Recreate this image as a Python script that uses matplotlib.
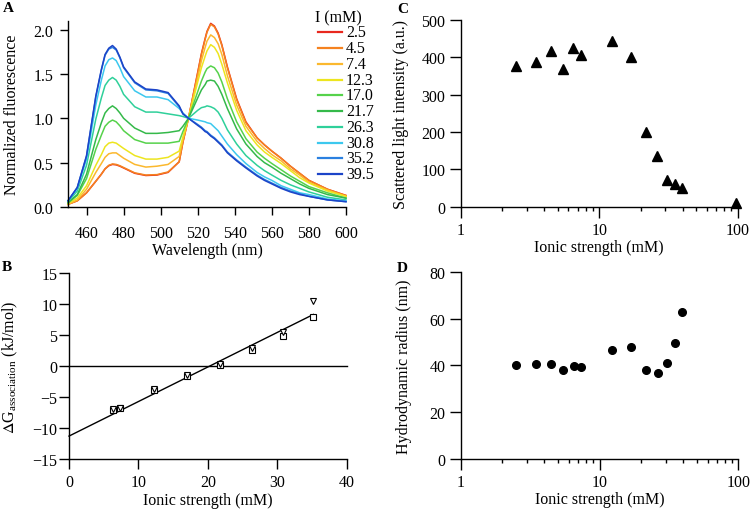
import matplotlib
matplotlib.use("Agg")
import matplotlib.pyplot as plt
from matplotlib.lines import Line2D

plt.rcParams['font.family'] = ['Liberation Serif', 'DejaVu Serif']
plt.rcParams['mathtext.fontset'] = 'stix'
FS = 11.5
plt.rcParams['font.size'] = FS

# ---------------- Panel A data ----------------
wavelength = [450, 455, 460, 465, 468, 470, 472, 474, 476, 478, 480, 486, 492, 498, 504, 510, 512, 515,
              520, 522, 524, 525, 527, 529, 531, 533, 536, 541, 546, 552, 556, 560, 565, 570, 575, 580, 590, 600]
ionic_labels = ["2.5", "4.5", "7.4", "12.3", "17.0", "21.7", "26.3", "30.8", "35.2", "39.5"]
colors_A = ["#e8281e", "#f5821f", "#fbb82e", "#ede51f", "#56d24b", "#35b94a",
            "#2fd09a", "#3cc8ee", "#2b80e0", "#1c44c8"]
spec_2_5 = [0.03, 0.07, 0.16, 0.29, 0.37, 0.43, 0.465, 0.48, 0.475, 0.46, 0.44, 0.38, 0.355, 0.36, 0.39, 0.51, 0.73, 1.00,
            1.52, 1.73, 1.90, 1.98, 2.07, 2.04, 1.96, 1.83, 1.58, 1.22, 0.96, 0.78, 0.70, 0.63, 0.55, 0.46, 0.38, 0.30, 0.20, 0.13]
spec_4_5 = [0.03, 0.07, 0.16, 0.29, 0.37, 0.43, 0.47, 0.485, 0.48, 0.465, 0.445, 0.385, 0.36, 0.365, 0.395, 0.51, 0.73, 1.00,
            1.51, 1.72, 1.89, 1.97, 2.06, 2.03, 1.95, 1.82, 1.57, 1.21, 0.95, 0.78, 0.70, 0.63, 0.55, 0.46, 0.38, 0.30, 0.20, 0.13]
spec_7_4 = [0.03, 0.08, 0.20, 0.39, 0.49, 0.56, 0.60, 0.61, 0.61, 0.58, 0.55, 0.48, 0.45, 0.46, 0.48, 0.57, 0.76, 1.00,
            1.46, 1.65, 1.80, 1.87, 1.94, 1.91, 1.84, 1.72, 1.48, 1.15, 0.91, 0.74, 0.66, 0.59, 0.52, 0.43, 0.36, 0.28, 0.19, 0.12]
spec_12_3 = [0.04, 0.10, 0.24, 0.47, 0.59, 0.68, 0.72, 0.73, 0.72, 0.69, 0.66, 0.58, 0.54, 0.54, 0.56, 0.63, 0.79, 1.00,
             1.41, 1.57, 1.70, 1.76, 1.83, 1.80, 1.73, 1.61, 1.40, 1.09, 0.86, 0.70, 0.62, 0.56, 0.49, 0.41, 0.33, 0.27, 0.18, 0.12]
spec_17_0 = [0.045, 0.13, 0.32, 0.65, 0.81, 0.91, 0.955, 0.98, 0.96, 0.915, 0.86, 0.76, 0.72, 0.72, 0.72, 0.74, 0.85, 1.00,
             1.30, 1.42, 1.52, 1.56, 1.59, 1.57, 1.51, 1.41, 1.22, 0.96, 0.77, 0.62, 0.55, 0.49, 0.42, 0.35, 0.29, 0.23, 0.16, 0.10]
spec_21_7 = [0.05, 0.14, 0.37, 0.76, 0.95, 1.06, 1.11, 1.14, 1.11, 1.06, 1.00, 0.89, 0.83, 0.83, 0.84, 0.86, 0.91, 1.00,
             1.23, 1.32, 1.38, 1.42, 1.43, 1.42, 1.36, 1.27, 1.11, 0.88, 0.71, 0.57, 0.50, 0.45, 0.38, 0.32, 0.26, 0.21, 0.14, 0.10]
spec_26_3 = [0.06, 0.18, 0.47, 0.99, 1.23, 1.37, 1.43, 1.46, 1.43, 1.36, 1.27, 1.13, 1.07, 1.07, 1.05, 1.03, 1.02, 1.00,
             1.09, 1.12, 1.13, 1.14, 1.13, 1.11, 1.07, 1.00, 0.87, 0.71, 0.58, 0.47, 0.41, 0.36, 0.30, 0.25, 0.21, 0.17, 0.11, 0.08]
spec_30_8 = [0.07, 0.21, 0.54, 1.15, 1.43, 1.59, 1.66, 1.68, 1.65, 1.57, 1.47, 1.31, 1.24, 1.24, 1.21, 1.11, 1.06, 1.00,
             0.98, 0.97, 0.96, 0.95, 0.94, 0.90, 0.86, 0.80, 0.71, 0.59, 0.49, 0.39, 0.34, 0.30, 0.24, 0.20, 0.16, 0.14, 0.09, 0.07]
spec_35_2 = [0.07, 0.22, 0.57, 1.24, 1.54, 1.71, 1.78, 1.80, 1.77, 1.68, 1.57, 1.40, 1.32, 1.31, 1.28, 1.13, 1.05, 1.00,
             0.93, 0.90, 0.86, 0.85, 0.81, 0.78, 0.74, 0.70, 0.62, 0.53, 0.45, 0.36, 0.31, 0.27, 0.22, 0.18, 0.15, 0.12, 0.08, 0.06]
spec_39_5 = [0.07, 0.22, 0.58, 1.25, 1.55, 1.72, 1.79, 1.82, 1.78, 1.69, 1.58, 1.41, 1.33, 1.32, 1.29, 1.14, 1.05, 1.00,
             0.92, 0.89, 0.85, 0.84, 0.80, 0.77, 0.73, 0.69, 0.61, 0.52, 0.44, 0.35, 0.30, 0.26, 0.21, 0.17, 0.14, 0.12, 0.08, 0.06]
spectra = [spec_2_5, spec_4_5, spec_7_4, spec_12_3, spec_17_0, spec_21_7,
           spec_26_3, spec_30_8, spec_35_2, spec_39_5]

# ---------------- Panel B data ----------------
ionic_B = [6.4, 7.4, 12.3, 17.0, 21.7, 26.3, 30.8, 35.2]
dG_squares = [-7.1, -6.8, -3.8, -1.55, 0.2, 2.55, 4.9, 8.0]
dG_triangles = [-7.0, -6.7, -3.65, -1.45, 0.3, 2.9, 5.5, 10.6]
fit_x = [0.0, 35.2]
fit_y = [-11.3, 8.35]

# ---------------- Panel C/D data ----------------
ionic_C = [2.5, 3.5, 4.5, 5.5, 6.5, 7.4, 12.3, 17.0, 21.7, 26.3, 30.8, 35.2, 39.5, 96.5]
scatter_int = [377, 386, 417, 368, 423, 405, 443, 399, 200, 136, 71, 62, 49, 10]
ionic_D = [2.5, 3.5, 4.5, 5.5, 6.5, 7.4, 12.3, 17.0, 21.7, 26.3, 30.8, 35.2, 39.5]
hydro_radius = [40.1, 40.4, 40.6, 38.1, 39.9, 39.4, 46.7, 47.8, 37.9, 36.6, 41.0, 49.7, 62.6]

W, H = 750, 510
fig = plt.figure(figsize=(W / 100, H / 100), dpi=100)


def fx(px):
    return px / W


def fy(py):
    return 1 - py / H


def px_axes(x0, x1, ytop, ybot):
    return fig.add_axes([fx(x0), fy(ybot), (x1 - x0) / W, (ybot - ytop) / H])


def style(ax, xlen, xpad, ylen, ypad):
    for s in ['top', 'right']:
        ax.spines[s].set_visible(False)
    for s in ['left', 'bottom']:
        ax.spines[s].set_linewidth(1.0)
    ax.tick_params(which='major', direction='out', width=1.0, labelsize=FS)
    ax.tick_params(axis='x', which='major', length=xlen, pad=xpad)
    ax.tick_params(axis='y', which='major', length=ylen, pad=ypad)
    ax.tick_params(which='minor', direction='out', length=3, width=1.0)


def place_labels(ax, xlabel_top_px, ylabel_right_px):
    pos = ax.get_position()
    ax.xaxis.set_label_coords(0.5 * (pos.x0 + pos.x1), fy(xlabel_top_px), transform=fig.transFigure)
    ax.yaxis.set_label_coords(fx(ylabel_right_px), 0.5 * (pos.y0 + pos.y1), transform=fig.transFigure)


# Panel A
axA = px_axes(68, 346, 21.7, 208)
for spec, lab, col in zip(spectra, ionic_labels, colors_A):
    axA.plot(wavelength, spec, color=col, lw=1.1, label=lab)
axA.set_xlim(450, 600)
axA.set_ylim(0, 2.1)
axA.set_xticks([460, 480, 500, 520, 540, 560, 580, 600])
axA.set_yticks([0.0, 0.5, 1.0, 1.5, 2.0])
axA.set_yticklabels(["0.0", "0.5", "1.0", "1.5", "2.0"])
axA.set_xlabel("Wavelength (nm)", fontsize=FS)
axA.set_ylabel("Normalized fluorescence", fontsize=FS)
style(axA, 5.5, 7.5, 6, 4.5)
place_labels(axA, 243, 20)

# legend for panel A (title + one row per ionic strength)
fig.text(fx(315), fy(18), "I (mM)", fontsize=FS, ha='left', va='center')
for i, (lab, col) in enumerate(zip(ionic_labels, colors_A)):
    yrow = 33.3 + i * 15.75
    fig.add_artist(Line2D([fx(318), fx(342)], [fy(yrow), fy(yrow)], color=col, lw=1.6,
                          transform=fig.transFigure))
    fig.text(fx(346), fy(yrow), lab, fontsize=FS, ha='left', va='center')
fig.text(fx(3), fy(12), "A", fontsize=11, fontweight='bold', ha='left', va='baseline')

# Panel B
axB = px_axes(69, 346.7, 274.3, 460)
axB.axhline(0, color='black', lw=1.0)
axB.plot(fit_x, fit_y, color='black', lw=1.0)
axB.plot(ionic_B, dG_squares, ls='none', marker='s', ms=4, mfc='white', mec='black', mew=0.8)
axB.plot(ionic_B, dG_triangles, ls='none', marker='v', ms=4.5, mfc='white', mec='black', mew=0.8)
axB.set_xlim(0, 40)
axB.set_ylim(-15, 15)
axB.set_xticks([0, 10, 20, 30, 40])
axB.set_yticks([-15, -10, -5, 0, 5, 10, 15])
axB.set_xlabel("Ionic strength (mM)", fontsize=FS)
axB.set_ylabel(r"$\Delta$G$_{\mathregular{association}}$ (kJ/mol)", fontsize=FS)
style(axB, 7, 4, 7, 1.5)
place_labels(axB, 493, 20)
fig.text(fx(2), fy(271), "B", fontsize=11, fontweight='bold', ha='left', va='baseline')

# Panel C
axC = px_axes(460.7, 737.7, 20.7, 207.7)
axC.plot(ionic_C, scatter_int, ls='none', marker='^', ms=6.5, color='black')
axC.set_xscale('log')
axC.set_xlim(1, 100)
axC.set_ylim(0, 500)
axC.set_xticks([1, 10, 100])
axC.set_xticklabels(["1", "10", "100"])
axC.set_yticks([0, 100, 200, 300, 400, 500])
axC.set_xlabel("Ionic strength (mM)", fontsize=FS)
axC.set_ylabel("Scattered light intensity (a.u.)", fontsize=FS)
style(axC, 8, 3, 8, 3)
axC.tick_params(axis='x', which='minor', length=3, labelbottom=False)
place_labels(axC, 240, 409)
fig.text(fx(397), fy(13), "C", fontsize=11, fontweight='bold', ha='left', va='baseline')

# Panel D
axD = px_axes(460.7, 738.3, 272.7, 460)
axD.plot(ionic_D, hydro_radius, ls='none', marker='o', ms=5.5, color='black')
axD.set_xscale('log')
axD.set_xlim(1, 100)
axD.set_ylim(0, 80)
axD.set_xticks([1, 10, 100])
axD.set_xticklabels(["1", "10", "100"])
axD.set_yticks([0, 20, 40, 60, 80])
axD.set_xlabel("Ionic strength (mM)", fontsize=FS)
axD.set_ylabel("Hydrodynamic radius (nm)", fontsize=FS)
style(axD, 8, 2.5, 8, 3)
axD.tick_params(axis='x', which='minor', length=3, labelbottom=False)
place_labels(axD, 492, 412)
fig.text(fx(397), fy(272), "D", fontsize=11, fontweight='bold', ha='left', va='baseline')

for ax in (axA, axB, axC, axD):
    for ln in ax.lines:
        ln.set_clip_on(False)

fig.savefig("out.png", dpi=100, facecolor='white')
